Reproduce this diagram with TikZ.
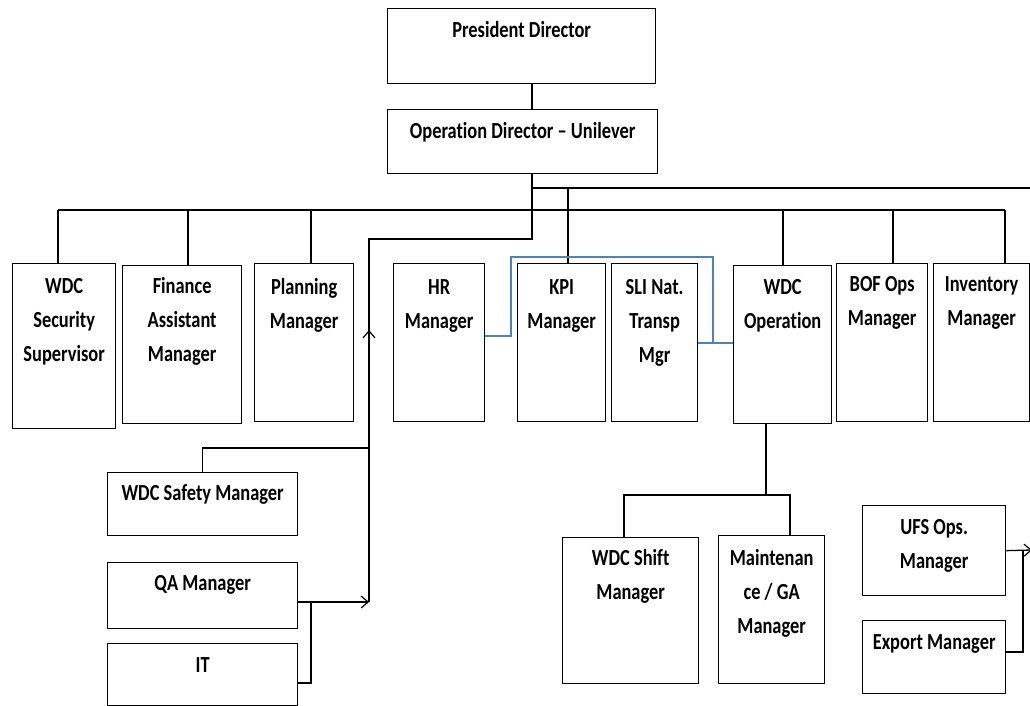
\documentclass[tikz,border=0pt]{standalone}
\usepackage{fontspec}
\newfontfamily\orgfont{Carlito}[FakeStretch=0.8,Ligatures=NoCommon]
\usetikzlibrary{arrows.meta}
\definecolor{linkblue}{RGB}{79,129,189}

\begin{document}
\begin{tikzpicture}[x=1pt,y=-1pt,
    unit/.style={draw,line width=1.3pt,anchor=north west,inner sep=0pt},
    lbl/.style={anchor=base,text width=240pt,align=flush center,inner sep=0pt,
      font=\orgfont\bfseries\fontsize{23}{34}\selectfont},
    link/.style={line width=1.3pt},
    blink/.style={line width=1.2pt,draw=linkblue},
    tip/.style={-{Straight Barb[length=7pt,width=12pt,line width=1.2pt]}}]
    \useasboundingbox (0,0) rectangle (1030,706);

    % boxes
    \node[unit,minimum width=268pt,minimum height=75pt] (pres) at (387,8) {};
    \node[unit,minimum width=270pt,minimum height=64pt] (opdir) at (387,109) {};
    \node[unit,minimum width=103pt,minimum height=165pt] (sec) at (12,263) {};
    \node[unit,minimum width=119pt,minimum height=158pt] (fin) at (122,265) {};
    \node[unit,minimum width=99pt,minimum height=158pt] (plan) at (254,263) {};
    \node[unit,minimum width=91pt,minimum height=158pt] (hr) at (393,263) {};
    \node[unit,minimum width=88pt,minimum height=158pt] (kpi) at (517,263) {};
    \node[unit,minimum width=86pt,minimum height=158pt] (sli) at (611,263) {};
    \node[unit,minimum width=98pt,minimum height=158pt] (wdcop) at (733,265) {};
    \node[unit,minimum width=91pt,minimum height=158pt] (bof) at (836,263) {};
    \node[unit,minimum width=96pt,minimum height=158pt] (inv) at (933,263) {};
    \node[unit,minimum width=190pt,minimum height=63pt] (safety) at (107,472) {};
    \node[unit,minimum width=190pt,minimum height=66pt] (qa) at (107,562) {};
    \node[unit,minimum width=190pt,minimum height=62pt] (it) at (107,643) {};
    \node[unit,minimum width=136pt,minimum height=146pt] (shift) at (562,537) {};
    \node[unit,minimum width=106pt,minimum height=148pt] (maint) at (718,535) {};
    \node[unit,minimum width=143pt,minimum height=90pt] (ufs) at (862,505) {};
    \node[unit,minimum width=143pt,minimum height=73pt] (export) at (862,620) {};

    % texts
    \node[lbl] (presT) at ([yshift=-30pt]pres.north) {President Director};
    \node[lbl] (opdirT) at ([yshift=-30pt]opdir.north) {Operation Director – Unilever};
    \node[lbl] (secT) at ([yshift=-30pt]sec.north) {WDC\\Security\\Supervisor};
    \node[lbl] (finT) at ([yshift=-28pt]fin.north) {Finance\\Assistant\\Manager};
    \node[lbl] (planT) at ([yshift=-31pt]plan.north) {Planning\\Manager};
    \node[lbl] (hrT) at ([yshift=-31pt]hr.north) {HR\\Manager};
    \node[lbl] (kpiT) at ([yshift=-31pt]kpi.north) {KPI\\Manager};
    \node[lbl] (sliT) at ([yshift=-31pt]sli.north) {SLI Nat.\\Transp\\Mgr};
    \node[lbl] (wdcopT) at ([yshift=-29pt]wdcop.north) {WDC\\Operation};
    \node[lbl] (bofT) at ([yshift=-28pt]bof.north) {BOF Ops\\Manager};
    \node[lbl] (invT) at ([yshift=-28pt]inv.north) {Inventory\\Manager};
    \node[lbl] (safetyT) at ([yshift=-28pt]safety.north) {WDC Safety Manager};
    \node[lbl] (qaT) at ([yshift=-28pt]qa.north) {QA Manager};
    \node[lbl] (itT) at ([yshift=-29pt]it.north) {IT};
    \node[lbl] (shiftT) at ([yshift=-28pt]shift.north) {WDC Shift\\Manager};
    \node[lbl] (maintT) at ([yshift=-30pt]maint.north) {Maintenan\\ce / GA\\Manager};
    \node[lbl] (ufsT) at ([yshift=-29pt]ufs.north) {UFS Ops.\\Manager};
    \node[lbl] (exportT) at ([yshift=-29pt]export.north) {Export Manager};

    % junctions
    \coordinate (j0) at (532,188);
    \coordinate (jk) at (568,188);
    \coordinate (j2) at (532,239);
    \coordinate (j3) at (369,239);
    \coordinate (j4) at (369,602);
    \coordinate (j5) at (369,448);
    \coordinate (jup) at (369,330);
    \coordinate (jqa) at (311,602);
    \coordinate (jw) at (766,495);
    \coordinate (ju) at (1023,550);
    \coordinate (eastend) at (1036,188);
    \coordinate (ufsend) at (1032,550);
    \coordinate (barW) at (58,210);
    \coordinate (barE) at (1005,210);

    % connectors
    \draw[link] (pres.south -| j0) -- (opdir.north -| j0);
    \draw[link] (opdir.south -| j0) -- (j2) -- (j3) -- (j4);
    \draw[link] (j0) -- (eastend);
    \draw[link] (jk) -- (kpi.north -| jk);
    \draw[link] (barW) -- (barE);
    \foreach \n/\x in {sec/58,fin/188,plan/311,wdcop/783,bof/893,inv/1005}
      \draw[link] (\x,210) -- (\n.north -| \x,210);
    \draw[blink] (hr.east |- 0,336) -| (511,257) -| (713,343);
    \draw[blink] (sli.east |- 0,343) -- (wdcop.west |- 0,343);
    \draw[link] (safety.north) |- (j5);
    \draw[link,tip] (j5) -- (jup);
    \draw[link,tip] (qa.east |- jqa) -- (j4);
    \draw[link] (jqa) |- (it.east |- 0,683);
    \draw[link] (wdcop.south -| jw) -- (jw);
    \draw[link] (shift.north -| 624,0) |- (jw) -| (maint.north -| 790,0);
    \draw[link,tip] (ufs.east) -- (ufsend);
    \draw[link] (ju) |- (export.east |- 0,652);
\end{tikzpicture}
\end{document}
